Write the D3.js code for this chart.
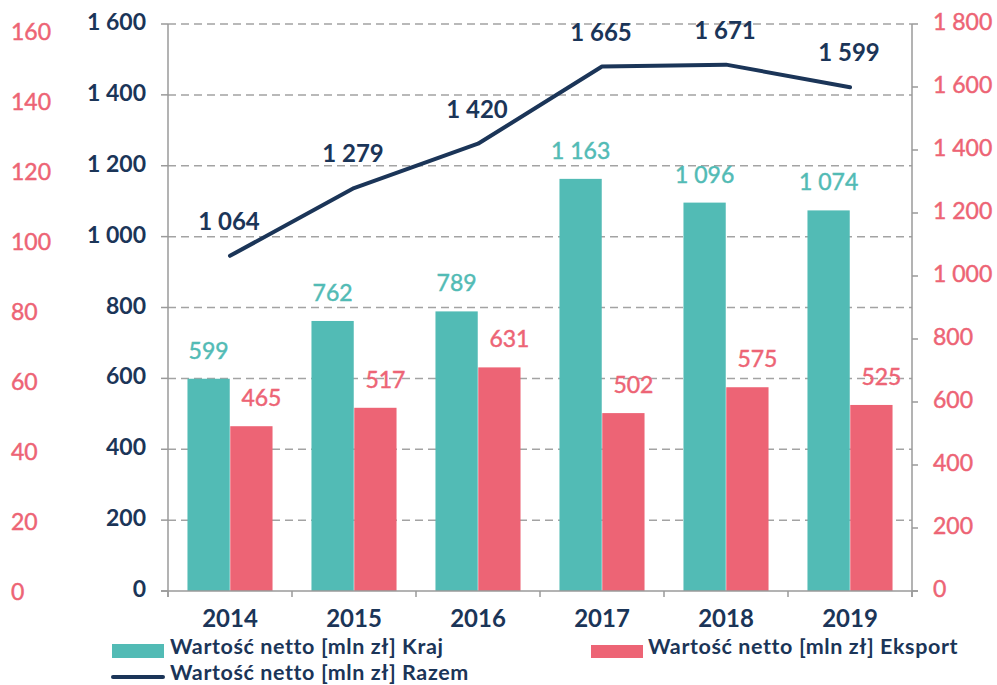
<!DOCTYPE html>
<html>
<head>
<meta charset="utf-8">
<script src="https://cdn.jsdelivr.net/npm/d3@7/dist/d3.min.js"></script>
<style>
  html, body { margin: 0; padding: 0; background: #fff; }
  svg { display: block; font-family: Lato, "Open Sans", sans-serif; }
</style>
</head>
<body>
<svg id="chart" width="997" height="685"></svg>
<script>
// ---- data ----
const years = ["2014", "2015", "2016", "2017", "2018", "2019"];
const kraj = [599, 762, 789, 1163, 1096, 1074];
const eksport = [465, 517, 631, 502, 575, 525];
const razem = [1064, 1279, 1420, 1665, 1671, 1599];
const leftTicks = [0, 200, 400, 600, 800, 1000, 1200, 1400, 1600];
const rightTicks = [0, 200, 400, 600, 800, 1000, 1200, 1400, 1600, 1800];
const farLeftTicks = [0, 20, 40, 60, 80, 100, 120, 140, 160];
const seriesNames = ["Wartość netto [mln zł] Kraj", "Wartość netto [mln zł] Eksport", "Wartość netto [mln zł] Razem"];

// ---- style ----
const TEAL = "#52bbb5", PINK = "#ed6475", NAVY = "#1b3558", GRID = "#a3a3a3", AXIS = "#9a9a9a";
const FS = 23;

const svg = d3.select("#chart");
const locale = d3.formatLocale({ decimal: ",", thousands: "\u2009", grouping: [3], currency: ["", " zł"] });
const fmt = v => locale.format(",")(v).replace("\u2009", " ");
// simulate a medium weight with a hairline stroke
const medium = (sel, color) => sel.attr("fill", color).attr("stroke", color).attr("stroke-width", 0.45).attr("font-weight", 400);

const L = 168, R = 912, Y0 = 591, YT = 24;
const x0 = d3.scaleBand().domain(years).range([L, R]).paddingInner(0.314).paddingOuter(0.157);
const x1 = d3.scaleBand().domain(["kraj", "eksport"]).range([0, x0.bandwidth()]).paddingInner(0.012);
const yL = d3.scaleLinear().domain([0, 1600]).range([Y0, YT]);
const yR = d3.scaleLinear().domain([0, 1800]).range([Y0, YT]);
const yF = d3.scaleLinear().domain([0, 160]).range([592, 32]);

// gridlines
svg.append("g").selectAll("line").data(leftTicks.filter(d => d > 0)).join("line")
  .attr("x1", L).attr("x2", R).attr("y1", d => yL(d)).attr("y2", d => yL(d))
  .attr("stroke", GRID).attr("stroke-width", 1.5).attr("stroke-dasharray", "8,5");

// bars
const groups = svg.append("g").selectAll("g").data(years).join("g")
  .attr("transform", d => `translate(${x0(d)},0)`);
groups.append("rect")
  .attr("x", x1("kraj")).attr("width", x1.bandwidth())
  .attr("y", (d, i) => yL(kraj[i])).attr("height", (d, i) => Y0 - yL(kraj[i]))
  .attr("fill", TEAL);
groups.append("rect")
  .attr("x", x1("eksport")).attr("width", x1.bandwidth())
  .attr("y", (d, i) => yL(eksport[i])).attr("height", (d, i) => Y0 - yL(eksport[i]))
  .attr("fill", PINK);

// axes lines
const ax = svg.append("g").attr("stroke", AXIS).attr("stroke-width", 1.5).attr("fill", "none");
ax.append("line").attr("x1", L).attr("x2", L).attr("y1", YT).attr("y2", Y0 + 6);
ax.append("line").attr("x1", R).attr("x2", R).attr("y1", YT).attr("y2", Y0 + 6);
ax.append("line").attr("x1", L - 7).attr("x2", R + 6).attr("y1", Y0).attr("y2", Y0);
const bounds = years.map(d => x0(d) - x0.step() * x0.paddingOuter()).concat([R]);
ax.selectAll(".xt").data(bounds).join("line").attr("class", "xt")
  .attr("x1", d => d).attr("x2", d => d).attr("y1", Y0).attr("y2", Y0 + 6);
ax.selectAll(".lt").data(leftTicks).join("line").attr("class", "lt")
  .attr("x1", L - 7).attr("x2", L).attr("y1", d => yL(d)).attr("y2", d => yL(d));
ax.selectAll(".rt").data(rightTicks).join("line").attr("class", "rt")
  .attr("x1", R).attr("x2", R + 6).attr("y1", d => yR(d)).attr("y2", d => yR(d));

// axis labels
svg.append("g").selectAll("text").data(leftTicks).join("text")
  .attr("x", 146).attr("y", d => yL(d) + 6).attr("text-anchor", "end")
  .attr("fill", NAVY).attr("font-size", FS).attr("font-weight", 700).text(fmt);
svg.append("g").selectAll("text").data(farLeftTicks).join("text")
  .attr("x", 11).attr("y", d => yF(d) + 8).attr("text-anchor", "start")
  .attr("font-size", FS).call(medium, PINK).text(fmt);
svg.append("g").selectAll("text").data(rightTicks).join("text")
  .attr("x", 933).attr("y", d => yR(d) + 6).attr("text-anchor", "start")
  .attr("font-size", FS).call(medium, PINK).text(fmt);
svg.append("g").selectAll("text").data(years).join("text")
  .attr("x", d => x0(d) + x0.bandwidth() / 2).attr("y", 627).attr("text-anchor", "middle")
  .attr("fill", NAVY).attr("font-size", 24).attr("font-weight", 700).text(d => d);

// line
const line = d3.line().x((d, i) => x0(years[i]) + x0.bandwidth() / 2).y(d => yR(d));
svg.append("path").datum(razem).attr("d", line)
  .attr("fill", "none").attr("stroke", NAVY).attr("stroke-width", 4)
  .attr("stroke-linecap", "round").attr("stroke-linejoin", "round");

// value labels
svg.append("g").selectAll("text").data(kraj).join("text")
  .attr("x", (d, i) => x0(years[i]) + x1("kraj") + x1.bandwidth() / 2)
  .attr("y", d => yL(d) - 20).attr("text-anchor", "middle")
  .attr("font-size", FS).call(medium, TEAL).text(fmt);
svg.append("g").selectAll("text").data(eksport).join("text")
  .attr("x", (d, i) => x0(years[i]) + x1("eksport") + x1.bandwidth() / 2 + 10)
  .attr("y", d => yL(d) - 20).attr("text-anchor", "middle")
  .attr("font-size", FS).call(medium, PINK).text(fmt);
svg.append("g").selectAll("text").data(razem).join("text")
  .attr("x", (d, i) => x0(years[i]) + x0.bandwidth() / 2 - 1)
  .attr("y", d => yR(d) - 26).attr("text-anchor", "middle")
  .attr("fill", NAVY).attr("font-size", 24).attr("font-weight", 700).text(fmt);

// legend
const lg = svg.append("g").attr("font-size", 21.5).attr("font-weight", 700)
  .attr("letter-spacing", 0.6).attr("fill", NAVY);
lg.append("rect").attr("x", 112).attr("y", 644).attr("width", 52).attr("height", 14).attr("fill", TEAL);
lg.append("text").attr("x", 170).attr("y", 654).text(seriesNames[0]);
lg.append("rect").attr("x", 591).attr("y", 645).attr("width", 52).attr("height", 13).attr("fill", PINK);
lg.append("text").attr("x", 648).attr("y", 654).text(seriesNames[1]);
lg.append("line").attr("x1", 113).attr("x2", 163).attr("y1", 677).attr("y2", 677)
  .attr("stroke", NAVY).attr("stroke-width", 4).attr("stroke-linecap", "round");
lg.append("text").attr("x", 170).attr("y", 680).text(seriesNames[2]);
</script>
</body>
</html>
